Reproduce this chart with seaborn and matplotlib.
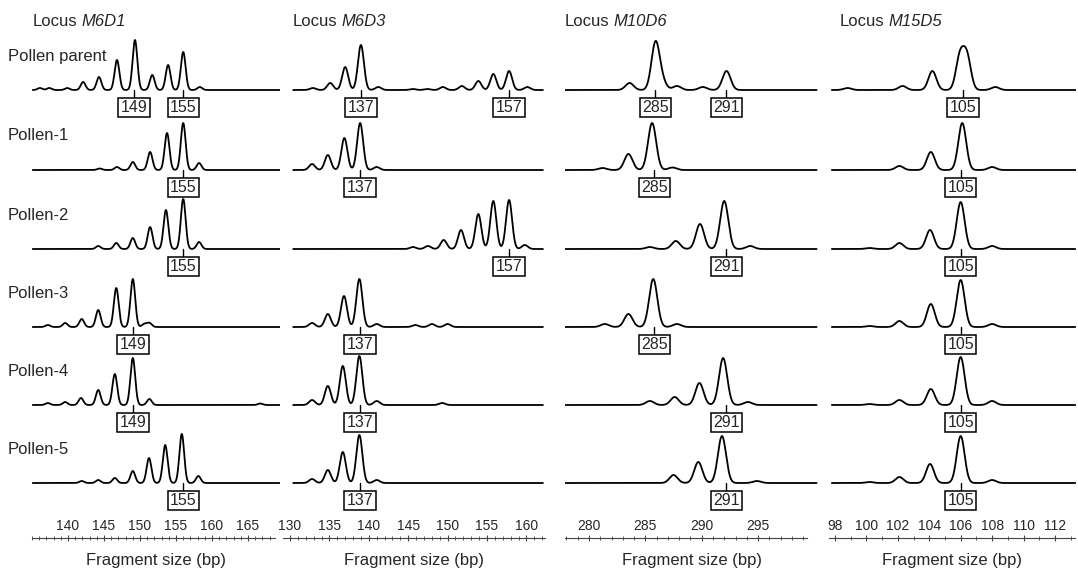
import matplotlib
matplotlib.use("Agg")
import matplotlib.pyplot as plt
import numpy as np
import pandas as pd
import seaborn as sns

# Electropherogram peaks: (fragment size in bp, relative height)
samples = ["Pollen parent", "Pollen-1", "Pollen-2", "Pollen-3", "Pollen-4", "Pollen-5"]
loci = ["M6D1", "M6D3", "M10D6", "M15D5"]

m6d1_peaks = [
    [(136.1, 4), (137.4, 4), (139.9, 4), (142.1, 16), (144.3, 26), (146.8, 60), (149.3, 100),
     (151.7, 30), (153.9, 50), (156.0, 76), (158.3, 6)],
    [(144.4, 3), (146.8, 6), (149.0, 16), (151.4, 36), (153.75, 74), (156.0, 94), (158.2, 14)],
    [(144.2, 6), (146.7, 12), (149.0, 22), (151.4, 44), (153.6, 78), (156.0, 100), (158.2, 14)],
    [(137.2, 4), (139.6, 8), (141.9, 16), (144.2, 34), (146.7, 78), (149.0, 96), (150.6, 6), (151.3, 8)],
    [(137.2, 4), (139.6, 6), (141.8, 14), (144.2, 30), (146.5, 62), (149.0, 94), (151.3, 12), (166.7, 3)],
    [(141.9, 4), (144.2, 6), (146.5, 10), (149.0, 24), (151.25, 50), (153.5, 76), (155.8, 98), (158.1, 14)],
]
m6d1_calls = [[("149", 149.2), ("155", 156.0)], [("155", 156.0)], [("155", 156.0)],
              [("149", 149.0)], [("149", 149.0)], [("155", 156.0)]]

m6d3_peaks = [
    [(132.9, 4), (135.1, 14), (137.0, 46), (139.0, 90), (141.2, 6), (145.6, 2), (147.4, 2),
     (149.4, 6), (151.8, 8), (153.9, 18), (155.8, 32), (157.8, 38), (160.1, 6)],
    [(132.8, 12), (134.8, 30), (136.9, 64), (138.9, 94), (141.0, 6)],
    [(145.6, 4), (147.5, 6), (149.5, 18), (151.7, 38), (153.9, 70), (155.8, 96), (157.8, 98), (159.8, 8)],
    [(132.8, 8), (134.8, 26), (136.85, 62), (138.8, 96), (141.0, 6), (145.9, 4), (148.0, 6), (150.0, 6)],
    [(132.8, 10), (134.8, 38), (136.7, 78), (138.8, 98), (141.0, 8), (149.3, 4)],
    [(132.8, 8), (134.8, 26), (136.7, 62), (138.8, 96), (141.0, 6)],
]
m6d3_calls = [[("137", 139.0), ("157", 157.8)], [("137", 138.9)], [("157", 157.8)],
              [("137", 138.9)], [("137", 138.9)], [("137", 138.9)]]

m10d6_peaks = [
    [(283.6, 14), (285.9, 94), (286.5, 16), (287.8, 8), (290.1, 6), (292.2, 38)],
    [(281.2, 4), (283.5, 32), (285.6, 94), (287.4, 5)],
    [(285.4, 4), (287.7, 16), (289.85, 50), (292.0, 96), (294.3, 6)],
    [(281.4, 6), (283.5, 26), (285.7, 96), (287.8, 6)],
    [(285.4, 8), (287.6, 16), (289.8, 44), (291.9, 94), (294.1, 6)],
    [(287.5, 16), (289.7, 42), (291.8, 94), (294.9, 4)],
]
m10d6_calls = [[("285", 285.9), ("291", 292.2)], [("285", 285.8)], [("291", 292.2)],
               [("285", 285.8)], [("291", 292.2)], [("291", 292.2)]]

m15d5_peaks = [
    [(98.8, 4), (102.3, 8), (104.2, 38), (105.95, 66), (106.4, 66), (108.2, 6)],
    [(102.1, 8), (104.1, 36), (106.1, 94), (108.0, 6)],
    [(100.2, 2), (102.1, 12), (104.05, 38), (106.0, 94), (108.0, 6)],
    [(100.2, 2), (102.1, 12), (104.1, 46), (106.0, 94), (108.0, 6)],
    [(100.2, 2), (102.1, 10), (104.1, 32), (106.0, 96), (108.0, 8)],
    [(100.2, 2), (102.1, 12), (104.05, 38), (106.0, 94), (108.0, 6)],
]
m15d5_calls = [[("105", 106.15)], [("105", 106.0)], [("105", 106.0)],
               [("105", 106.0)], [("105", 106.0)], [("105", 106.0)]]

major_ticks = [[140, 145, 150, 155, 160, 165], [130, 135, 140, 145, 150, 155, 160],
               [280, 285, 290, 295], [98, 100, 102, 104, 106, 108, 110, 112]]

sns.set_style("white")
plt.rcParams["font.family"] = ["Liberation Sans", "DejaVu Sans"]

W, H = 1078, 570
fig = plt.figure(figsize=(W / 100, H / 100), dpi=100)

# column layout: pixel span of the axes, data span, axis line span, trace span, peak width
columns = [
    dict(peaks=m6d1_peaks, calls=m6d1_calls, px=(32, 280), xlim=(135.0, 169.44),
         axis=(135.0, 168.75), trace=(135.1, 169.4), sigma=0.33, title_x=33),
    dict(peaks=m6d3_peaks, calls=m6d3_calls, px=(283, 545), xlim=(129.11, 162.36),
         axis=(129.11, 162.3), trace=(130.4, 162.1), sigma=0.38, title_x=293),
    dict(peaks=m10d6_peaks, calls=m10d6_calls, px=(565, 818), xlim=(277.87, 300.32),
         axis=(277.87, 299.3), trace=(277.9, 300.2), sigma=0.36, title_x=565),
    dict(peaks=m15d5_peaks, calls=m15d5_calls, px=(829, 1076), xlim=(97.62, 113.34),
         axis=(97.62, 113.3), trace=(97.8, 113.3), sigma=0.25, title_x=840),
]

top_px, bottom_px = 20, 538
baselines_px = [90, 170, 249, 327, 405, 483]
scale = 0.5  # pixels per height unit

renderer = fig.canvas.get_renderer()

for ci, col in enumerate(columns):
    x0, x1 = col["px"]
    ax = fig.add_axes([x0 / W, 1 - bottom_px / H, (x1 - x0) / W, (bottom_px - top_px) / H])

    rows = []
    xs = np.linspace(col["trace"][0], col["trace"][1], 1600)
    for si, name in enumerate(samples):
        base = bottom_px - baselines_px[si]
        sig = np.zeros_like(xs)
        for c, h in col["peaks"][si]:
            sig += h * np.exp(-0.5 * ((xs - c) / col["sigma"]) ** 2)
        rows.append(pd.DataFrame({"size": xs, "signal": base + scale * sig, "sample": name}))
    df = pd.concat(rows, ignore_index=True)
    sns.lineplot(data=df, x="size", y="signal", units="sample", estimator=None,
                 color="black", linewidth=1.3, ax=ax, legend=False)

    # allele call boxes
    for si in range(len(samples)):
        base = bottom_px - baselines_px[si]
        for lab, pos in col["calls"][si]:
            ax.plot([pos, pos], [base, base - 7], color="black", lw=1)
            ax.text(pos, base - 17.5, lab, ha="center", va="center", fontsize=11.5,
                    bbox=dict(boxstyle="square,pad=0.15", fc="white", ec="black", lw=1.1))

    ax.set_xlim(*col["xlim"])
    ax.set_ylim(0, bottom_px - top_px)
    ax.set_xlabel("")
    ax.set_ylabel("")
    ax.set_yticks([])
    for s in ["top", "left", "right"]:
        ax.spines[s].set_visible(False)
    lo, hi = col["axis"]
    ax.spines["bottom"].set_bounds(lo, hi)
    ax.spines["bottom"].set_color("#444444")
    ax.spines["bottom"].set_linewidth(0.8)
    ax.set_xticks(major_ticks[ci])
    ax.set_xticks(np.arange(np.ceil(lo), np.floor(hi) + 1), minor=True)
    ax.tick_params(axis="x", which="major", bottom=True, direction="inout", length=5,
                   width=0.8, color="#444444", labelsize=10, pad=-16)
    ax.tick_params(axis="x", which="minor", bottom=True, direction="inout", length=2.5,
                   width=0.6, color="#444444")
    ax.patch.set_alpha(0)

    # locus title: plain "Locus" + italic name
    t = fig.text(col["title_x"] / W, 1 - 22 / H, "Locus", fontsize=12, va="center")
    bb = t.get_window_extent(renderer)
    fig.text((bb.x1 + 4) / W, 1 - 22 / H, loci[ci], fontsize=12, va="center", style="italic")

    fig.text((x0 + x1) / 2 / W, 1 - 560 / H, "Fragment size (bp)", fontsize=12,
             ha="center", va="center")

for si, name in enumerate(samples):
    fig.text(8 / W, 1 - (baselines_px[si] - 34) / H, name, fontsize=12, va="center")

fig.savefig("out.png", dpi=100)
